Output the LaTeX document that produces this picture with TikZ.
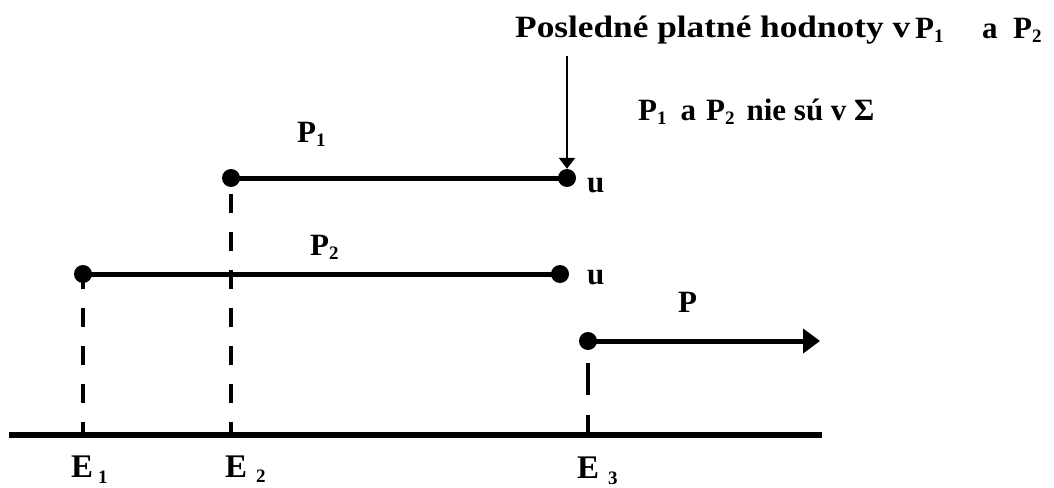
\documentclass[tikz,border=0pt]{standalone}
\usepackage{fontspec}
\setmainfont{Liberation Serif}
\usetikzlibrary{arrows.meta}
\newcommand\sbs[2][-4pt]{\raisebox{#1}{\fontsize{19}{19}\selectfont #2}}
\begin{document}
\begin{tikzpicture}[x=1pt,y=-1pt,
  dot/.style={circle,fill=black,inner sep=0pt,minimum size=18pt},
  seg/.style={line width=5pt},
  base/.style={line width=6pt},
  dsh/.style={line width=3.5pt,dash pattern=on 19pt off 19pt,dash phase=6pt},
  lbl/.style={font=\fontsize{31}{31}\selectfont\bfseries,inner sep=0pt},
  elbl/.style={font=\fontsize{33}{33}\selectfont\bfseries,inner sep=0pt}]
\useasboundingbox (0,0) rectangle (1054,487);
% axis
\coordinate (L) at (9,435);
\coordinate (R) at (822,435);
\draw[base] (L) -- (R);
\coordinate (e1) at (83,435);
\coordinate (e2) at (231,435);
\coordinate (e3) at (588,435);
% P1
\node[dot] (a1) at (231,178) {};
\node[dot] (b1) at (567,178) {};
\draw[seg] (a1.center) -- (b1.center);
% P2
\node[dot] (a2) at (83,274) {};
\node[dot] (b2) at (560,274) {};
\draw[seg] (a2.center) -- (b2.center);
% P
\node[dot] (a3) at (588,341) {};
\coordinate (t3) at (820,341);
\draw[seg,-{Triangle[length=17pt,width=24pt]}] (a3.center) -- (t3);
% dashed
\draw[dsh] (e1) -- (a2.center);
\draw[dsh] (e2) -- (a1.center);
\draw[line width=3.5pt,dash pattern=on 20pt off 20pt on 32pt off 40pt] (e3) -- (a3.center);
% labels
\node[lbl,anchor=base west] (lp1) at (297,142) {P\sbs{1}};
\node[lbl,anchor=base west] (lp2) at (310,255) {P\sbs{2}};
\node[lbl,anchor=base west] (lp) at (678,312) {P};
\node[lbl,anchor=base west] (u1) at (587,192) {u};
\node[lbl,anchor=base west] (u2) at (587,284) {u};
\node[elbl,anchor=base west] (le1) at (71,477) {E\hspace{5pt}\sbs[-6pt]{1}};
\node[elbl,anchor=base west] (le2) at (225,477) {E\hspace{9pt}\sbs[-5pt]{2}};
\node[elbl,anchor=base west] (le3) at (577,478) {E\hspace{9pt}\sbs[-6pt]{3}};
% top
\node[lbl,anchor=base west] (top) at (515,38) {\makebox[400pt][l]{\resizebox{395pt}{\height}{Posledné platné hodnoty v}}\makebox[67pt][l]{P\sbs{1}}\makebox[31pt][l]{a}P\sbs{2}};
\node[lbl,anchor=base west] (sig) at (638,120) {P\sbs{1}\hspace{14pt}a\hspace{10pt}P\sbs{2}\hspace{12pt}nie sú v Σ};
\coordinate (ar0) at (567,56);
\draw[line width=2.5pt,-{Triangle[length=11pt,width=16pt]}] (ar0) -- (b1.north);
\end{tikzpicture}
\end{document}
